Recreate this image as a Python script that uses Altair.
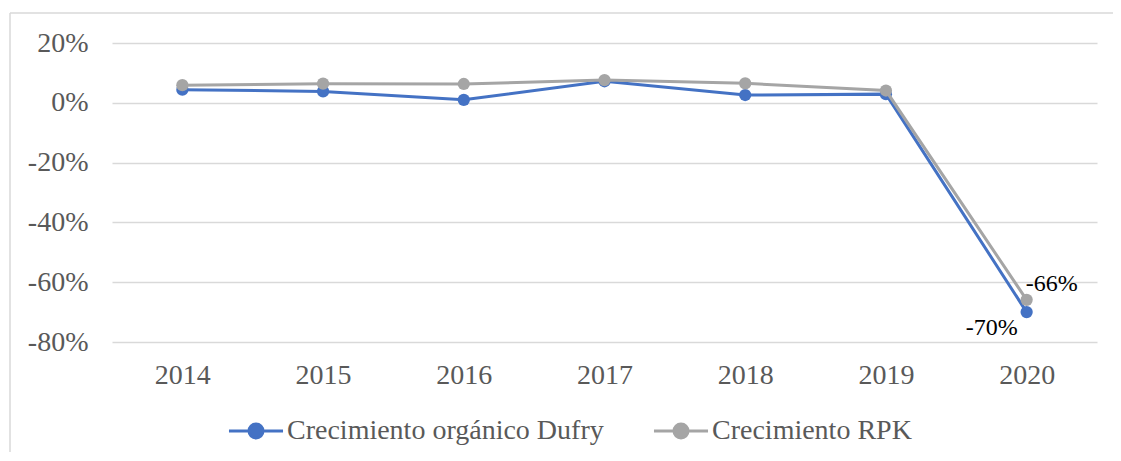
import altair as alt
import pandas as pd

years = ["2014", "2015", "2016", "2017", "2018", "2019", "2020"]
dufry = [4.4, 3.8, 1.0, 7.2, 2.6, 2.9, -70.0]
rpk = [5.9, 6.4, 6.3, 7.6, 6.5, 4.1, -65.9]
series_names = ["Crecimiento orgánico Dufry", "Crecimiento RPK"]
series_colors = ["#4472C4", "#A5A5A5"]
y_ticks = [-0.8, -0.6, -0.4, -0.2, 0.0, 0.2]

rows = []
for name, vals in zip(series_names, [dufry, rpk]):
    for yr, v in zip(years, vals):
        rows.append({"year": yr, "serie": name, "value": v / 100})
df = pd.DataFrame(rows)

FONT = "Liberation Serif"
GREY_TXT = "#595959"
W, H = 985, 299

SYMBOL = "M-3.86,0L3.86,0M-1,0A1,1,0,1,0,1,0A1,1,0,1,0,-1,0"

x_enc = alt.X(
    "year:O",
    scale=alt.Scale(type="point", padding=0.5),
    axis=alt.Axis(title=None, labelAngle=0, domain=False, ticks=False, grid=False,
                  labelFont=FONT, labelFontSize=28, labelColor=GREY_TXT,
                  labelPadding=19),
)
y_enc = alt.Y(
    "value:Q",
    scale=alt.Scale(domain=[-0.8, 0.2], nice=False),
    axis=alt.Axis(title=None, values=y_ticks, format=".0%",
                  labelExpr="replace(datum.label, '\u2212', '-')",
                  domain=False, ticks=False, gridColor="#d9d9d9", gridWidth=1.3,
                  labelFont=FONT, labelFontSize=28, labelColor=GREY_TXT,
                  labelPadding=24),
)

def make_legend():
    return alt.Legend(
        title=None, orient="none", legendX=130, legendY=374, direction="horizontal",
        symbolType=SYMBOL, symbolSize=196, symbolStrokeWidth=3, symbolOpacity=1,
        labelFont=FONT, labelFontSize=28, labelColor=GREY_TXT, labelOffset=17,
        labelLimit=0, columnPadding=43, padding=0,
    )

col_scale = alt.Scale(domain=series_names, range=series_colors)

base = alt.Chart(df)

def line_layer(name):
    return base.transform_filter(alt.datum.serie == name).mark_line(
        strokeWidth=3,
    ).encode(x=x_enc, y=y_enc,
             stroke=alt.Stroke("serie:N", scale=col_scale, legend=make_legend()))

def point_layer(name):
    return base.transform_filter(alt.datum.serie == name).mark_point(
        filled=True, size=150, opacity=1,
    ).encode(x=x_enc, y=y_enc,
             fill=alt.Fill("serie:N", scale=col_scale, legend=make_legend()))

def label_layer(name, align, dx, dy):
    return base.transform_filter(
        (alt.datum.serie == name) & (alt.datum.year == years[-1])
    ).transform_calculate(
        lbl="replace(format(datum.value, '.0%'), '\u2212', '-')"
    ).mark_text(
        align=align, baseline="middle", dx=dx, dy=dy,
        font=FONT, fontSize=24, color="black",
    ).encode(x=x_enc, y=y_enc, text="lbl:N")

frame = alt.Data(values=[{"k": 1}])
border_left = alt.Chart(frame).mark_rule(color="#d9d9d9", strokeWidth=1.5).encode(
    x=alt.value(-102), y=alt.value(-30), y2=alt.value(700))
border_top = alt.Chart(frame).mark_rule(color="#d9d9d9", strokeWidth=1.5).encode(
    x=alt.value(-102), x2=alt.value(1500), y=alt.value(-30))

chart = alt.layer(
    border_left,
    border_top,
    line_layer(series_names[0]),
    point_layer(series_names[0]),
    line_layer(series_names[1]),
    point_layer(series_names[1]),
    label_layer(series_names[1], "left", -1, -16),
    label_layer(series_names[0], "right", -9, 16),
).properties(
    width=W, height=H,
    autosize=alt.AutoSizeParams(type="none"),
    padding={"left": 104, "top": 35, "right": 16, "bottom": 110},
).configure(
    font=FONT,
).configure_axis(
    labelFont=FONT,
).configure_text(
    font=FONT,
).configure_view(stroke=None)

chart.save("out.html", embed_options={"renderer": "svg", "actions": False})
